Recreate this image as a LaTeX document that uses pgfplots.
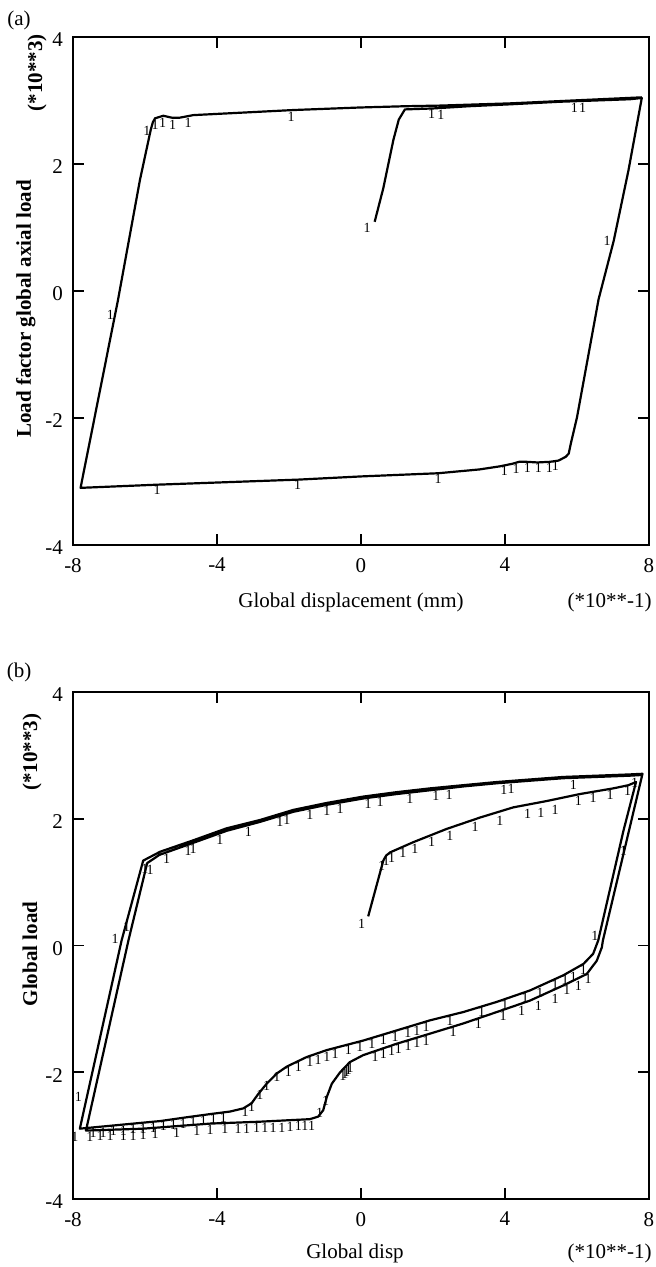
\documentclass[border=0pt]{standalone}
\usepackage{fontspec}
\setmainfont{Liberation Serif}
\usepackage{pgfplots}
\pgfplotsset{compat=1.18}
\begin{document}
\begin{tikzpicture}
\useasboundingbox (0pt,0pt) rectangle (327.5pt,-633.5pt);
\pgfplotsset{
  panel/.style={
    scale only axis, width=288pt,
    xmin=-8, xmax=8, ymin=-4, ymax=4,
    xtick={-8,-4,0,4,8}, xticklabels={-8,-4,0,4,8},
    ytick={-4,-2,0,2,4}, yticklabels={-4,-2,0,2,4},
    tick align=inside, major tick length=5.5pt,
    xtick pos=both, ytick pos=both,
    xticklabel pos=lower, yticklabel pos=left,
    axis line style={line width=0.9pt, black},
    major tick style={line width=0.9pt, black},
    tick label style={font=\fontsize{10.5}{12}\selectfont},
    xticklabel style={yshift=-3pt},
    yticklabel style={xshift=-1.5pt, yshift=-1.5pt},
    clip=false,
  },
  curve/.style={black, line width=1.1pt, line join=round, mark=none},
  ones/.style={only marks, mark=text, text mark as node=true,
    text mark={\fontsize{7}{7}\selectfont 1}, black,
    text mark style={inner sep=0pt}},
}
% ---------------- panel (a)
\begin{axis}[panel, height=254pt, at={(36.5pt,-272.5pt)}, anchor=south west]
\addplot[curve] coordinates {
(0.38,1.09) (0.62,1.62) (0.90,2.38) (1.05,2.70) (1.22,2.86) (2.0,2.875)
(3.0,2.91) (4.14,2.94) (5.5,2.98) (6.5,3.0) (7.47,3.02) (7.80,3.04)
(7.43,1.90) (7.02,0.79) (6.60,-0.13) (6.00,-1.99) (5.83,-2.40) (5.77,-2.56)
(5.69,-2.61) (5.49,-2.67) (5.25,-2.69) (4.90,-2.70) (4.60,-2.69) (4.39,-2.69)
(4.21,-2.72) (3.87,-2.76) (3.29,-2.81) (2.14,-2.87) (0,-2.92) (-1.73,-2.97)
(-5.66,-3.05) (-7.79,-3.10)
(-7.40,-1.99) (-6.75,-0.14) (-6.14,1.75) (-5.84,2.54) (-5.78,2.66) (-5.72,2.72)
(-5.49,2.76) (-5.26,2.73) (-5.03,2.73) (-4.66,2.77) (-1.88,2.85) (-0.03,2.89)
(1.22,2.91) (2.2,2.92) (4.14,2.955) (7.80,3.05)
};
\addplot[ones] coordinates {
(-5.95,2.52) (-5.72,2.61) (-5.51,2.64) (-5.23,2.62) (-4.80,2.65) (-1.94,2.74)
(1.96,2.79) (2.22,2.78) (5.93,2.88) (6.16,2.89)
(6.84,0.79) (0.17,0.99) (-6.96,-0.38)
(-5.66,-3.13) (-1.76,-3.06) (2.14,-2.96) (3.98,-2.84) (4.31,-2.80) (4.62,-2.79)
(4.93,-2.79) (5.23,-2.79) (5.40,-2.76)
};
\end{axis}
% ---------------- panel (b)
\begin{axis}[panel, height=253.5pt, at={(36.5pt,-599.5pt)}, anchor=south west]
\addplot[curve] coordinates {
(0.20,0.46) (0.62,1.34) (0.70,1.42) (0.81,1.47) (1.45,1.63) (2.38,1.84)
(3.31,2.02) (4.23,2.18) (5.16,2.28) (6.08,2.39) (7.01,2.48) (7.43,2.53) (7.64,2.58)
(7.29,1.81) (6.59,0.08) (6.45,-0.13) (6.18,-0.29) (5.62,-0.47) (4.69,-0.71)
(3.77,-0.89) (2.84,-1.05) (1.92,-1.18) (0.99,-1.34) (0.06,-1.50) (-0.95,-1.65)
(-1.51,-1.76) (-2.06,-1.91) (-2.34,-2.02) (-2.62,-2.18) (-2.85,-2.34) (-3.04,-2.49)
(-3.27,-2.57) (-3.64,-2.62) (-4.19,-2.66) (-4.84,-2.71) (-5.58,-2.77) (-6.51,-2.82)
(-7.81,-2.89)
(-6.65,0.08) (-6.05,1.34)
(-5.58,1.48) (-4.66,1.66) (-3.73,1.85) (-2.81,1.98) (-1.88,2.14) (-0.95,2.25)
(0.06,2.35) (0.99,2.42) (1.92,2.48) (2.84,2.53) (3.77,2.58) (4.69,2.62)
(5.62,2.66) (6.55,2.68) (7.47,2.70) (7.82,2.71)
(6.72,0.08) (6.69,-0.03) (6.55,-0.24) (6.27,-0.45) (5.62,-0.63) (4.69,-0.87)
(3.77,-1.05) (2.84,-1.23) (1.92,-1.39) (0.99,-1.55) (0.06,-1.73) (-0.31,-1.84)
(-0.58,-2.00) (-0.81,-2.18) (-0.95,-2.39) (-1.05,-2.60) (-1.19,-2.70) (-1.42,-2.74)
(-2.81,-2.78) (-4.19,-2.81) (-5.12,-2.85) (-6.05,-2.89) (-7.64,-2.92)
(-6.46,0.08) (-5.94,1.30)
(-5.60,1.43) (-4.66,1.62) (-3.73,1.81) (-2.81,1.95) (-1.88,2.11) (-0.95,2.22)
(0.06,2.32) (0.99,2.39) (1.92,2.45) (2.84,2.51) (3.77,2.56) (4.69,2.60)
(5.62,2.64) (6.55,2.66) (7.47,2.68) (7.78,2.69)
};
\addplot[ones] coordinates {
(-6.00,1.21) (-5.86,1.20) (-5.40,1.37) (-4.80,1.49) (-4.66,1.52) (-3.92,1.67)
(-3.13,1.80) (-2.25,1.95) (-2.06,1.98) (-1.42,2.06) (-0.95,2.12) (-0.58,2.16)
(0.20,2.23) (0.53,2.26) (1.36,2.32) (2.08,2.36) (2.45,2.38) (3.97,2.46)
(4.17,2.47) (5.90,2.54) (7.60,2.57)
(0.02,0.34) (0.57,1.26) (0.70,1.33) (0.85,1.39) (1.16,1.46) (1.50,1.53)
(1.96,1.64) (2.47,1.73) (3.17,1.87) (3.86,1.97) (4.63,2.07) (5.00,2.10)
(5.39,2.14) (6.04,2.29) (6.45,2.33) (6.92,2.38) (7.41,2.44)
(6.50,0.16) (7.29,1.50) (-6.83,0.10) (-6.51,0.29) (-7.85,-2.39) (-7.95,-3.02)
(-3.22,-2.62) (-3.04,-2.54) (-2.81,-2.36) (-2.62,-2.22) (-2.34,-2.08) (-2.02,-2.00)
(-1.74,-1.92) (-1.42,-1.84) (-1.19,-1.80) (-0.95,-1.75) (-0.72,-1.71) (-0.35,-1.65)
(-0.03,-1.60) (0.30,-1.55) (0.62,-1.49) (0.95,-1.44) (1.30,-1.38) (1.55,-1.34)
(1.81,-1.29) (2.47,-1.19) (3.35,-1.04) (4.00,-0.94) (4.56,-0.83) (4.97,-0.75)
(5.39,-0.62) (5.67,-0.55) (5.90,-0.49) (6.18,-0.38)
(0.39,-1.75) (0.62,-1.71) (0.85,-1.67) (1.04,-1.63) (1.31,-1.58) (1.55,-1.54)
(1.81,-1.50) (2.56,-1.37) (3.26,-1.24) (3.95,-1.11) (4.46,-1.03) (4.93,-0.95)
(5.39,-0.84) (5.72,-0.70) (6.04,-0.63) (6.31,-0.52)
(-0.30,-1.93) (-0.35,-1.96) (-0.40,-1.99) (-0.45,-2.02) (-0.50,-2.06)
(-0.98,-2.45) (-1.15,-2.64)
(-3.82,-2.72) (-4.10,-2.74) (-4.38,-2.76) (-4.66,-2.79) (-4.94,-2.81) (-5.21,-2.83)
(-5.49,-2.85) (-5.77,-2.87) (-6.05,-2.89) (-6.33,-2.90) (-6.60,-2.92) (-6.88,-2.93)
(-7.16,-2.95) (-7.44,-2.96)
(-7.53,-3.02) (-7.25,-3.01) (-6.97,-3.01) (-6.60,-3.00) (-6.33,-3.00) (-6.05,-2.99)
(-5.72,-2.98) (-5.12,-2.95) (-4.56,-2.92) (-4.19,-2.91) (-3.78,-2.90) (-3.41,-2.89)
(-3.18,-2.89) (-2.90,-2.88) (-2.67,-2.88) (-2.44,-2.87) (-2.20,-2.87) (-1.97,-2.86)
(-1.74,-2.85) (-1.56,-2.85) (-1.37,-2.84)
};
\end{axis}
% ---------------- texts
\node[inner sep=0pt, font=\fontsize{10.5}{12}\selectfont] at (9.5pt,-10pt) {(a)};
\node[inner sep=0pt, rotate=90, anchor=base, font=\fontsize{10.5}{12}\selectfont\bfseries] at (21pt,-36.5pt) {(*10**3)};
\node[inner sep=0pt, rotate=90, anchor=base, font=\fontsize{10.5}{12}\selectfont\bfseries] at (15.5pt,-154.5pt) {Load factor global axial load};
\node[inner sep=0pt, font=\fontsize{10.5}{12}\selectfont] at (175.5pt,-301pt) {Global displacement (mm)};
\node[inner sep=0pt, anchor=east, font=\fontsize{10.5}{12}\selectfont] at (326pt,-301pt) {(*10**-1)};
\node[inner sep=0pt, font=\fontsize{10.5}{12}\selectfont] at (9.5pt,-336pt) {(b)};
\node[inner sep=0pt, rotate=90, anchor=base, font=\fontsize{10.5}{12}\selectfont\bfseries] at (18.5pt,-376pt) {(*10**3)};
\node[inner sep=0pt, rotate=90, anchor=base, font=\fontsize{10.5}{12}\selectfont\bfseries] at (18.5pt,-477pt) {Global load};
\node[inner sep=0pt, font=\fontsize{10.5}{12}\selectfont] at (177.5pt,-626.5pt) {Global disp};
\node[inner sep=0pt, anchor=east, font=\fontsize{10.5}{12}\selectfont] at (326pt,-626.5pt) {(*10**-1)};
\end{tikzpicture}
\end{document}
